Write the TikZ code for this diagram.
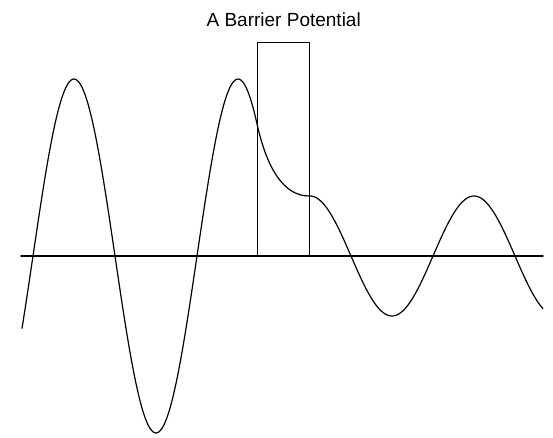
\documentclass[tikz,border=0pt]{standalone}
\usepackage{fontspec}
\setmainfont{Liberation Sans}
\usetikzlibrary{positioning}

\begin{document}
\begin{tikzpicture}[x=1pt, y=-1pt, line cap=round, line join=round]
  \tikzset{wave/.style={draw=black, line width=1.2pt}, axisline/.style={draw=black, line width=1.4pt},
    barrier/.style={draw=black, line width=1.4pt, minimum width=52pt, minimum height=213pt, inner sep=0pt, anchor=south west},
    title/.style={font=\fontsize{19}{21}\selectfont, inner sep=0pt, anchor=base}}
  \useasboundingbox (0,0) rectangle (553,438);

  % axis
  \coordinate (axisL) at (21,256);
  \coordinate (axisR) at (543,256);
  \draw[axisline] (axisL) -- (axisR);

  % barrier and its label
  \node[barrier] (barrier) at (257,256) {};
  \node[title] (title) at ([yshift=15pt]barrier.north) {A Barrier Potential};

  % wave: free, decaying inside the barrier, free again
  \coordinate (enter) at (257,124);
  \coordinate (leave) at (309,196);
  \draw[wave] plot[domain=22:257, samples=150] (\x, {256 - 177*sin(2.195*(\x-197))})
    .. controls ([shift={(10,45)}]enter) and ([shift={(-25,0)}]leave) .. (leave)
    plot[domain=309:543, samples=100] (\x, {256 - 60*sin(2.195*(\x-433))});
\end{tikzpicture}
\end{document}
